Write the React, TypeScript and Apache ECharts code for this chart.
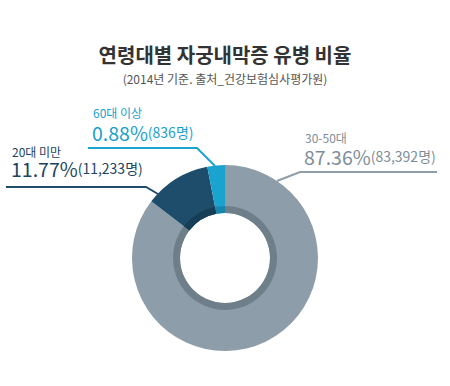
import React, { useEffect, useRef } from "react";
import * as echarts from "echarts";

const categories = ["30-50대", "20대 미만", "60대 이상"];
const patients = [83392, 11233, 836];
const shares = [87.36, 11.77, 0.88];

const sliceColors = ["#8d9eaa", "#1e4d6b", "#1ba3d0"];
const innerColors = ["#6f7f8a", "#173e57", "#1786ad"];
const labelColors = ["#7e8e99", "#1b4560", "#1a9fcb"];

const FONT = "'Noto Sans CJK KR', 'Noto Sans', sans-serif";

function labelText(i: number) {
  return `{a|${shares[i].toFixed(2)}%}{b|(${patients[i].toLocaleString("en-US")}명)}`;
}

function labelGroup(i: number, x: number, yName: number, yVal: number) {
  const c = labelColors[i];
  return [
    {
      type: "text",
      x,
      y: yName,
      style: {
        text: categories[i],
        fill: c,
        font: `normal 12px ${FONT}`,
        textVerticalAlign: "middle",
      },
    },
    {
      type: "text",
      x: x - 1,
      y: yVal,
      style: {
        text: labelText(i),
        fill: c,
        textVerticalAlign: "middle",
        rich: {
          a: { fontSize: 19.5, fontFamily: FONT, fill: c, fontWeight: "normal", lineHeight: 16 },
          b: { fontSize: 14, fontFamily: FONT, fill: c, lineHeight: 16 },
        },
      },
    },
  ];
}

export default function App() {
  const ref = useRef<HTMLDivElement>(null);
  useEffect(() => {
    if (!ref.current) return;
    const chart = echarts.init(ref.current, null, { renderer: "svg" });
    const data = categories.map((name, i) => ({
      name,
      value: patients[i],
      itemStyle: { color: sliceColors[i] },
    }));
    const innerData = categories.map((name, i) => ({
      name,
      value: patients[i],
      itemStyle: { color: innerColors[i] },
    }));
    chart.setOption({
      animation: false,
      backgroundColor: "#ffffff",
      title: {
        text: "연령대별 자궁내막증 유병 비율",
        subtext: "(2014년 기준. 출처_건강보험심사평가원)",
        left: "center",
        top: 39,
        itemGap: 8,
        textStyle: { fontFamily: FONT, fontSize: 20, fontWeight: "bold", color: "#333333" },
        subtextStyle: { fontFamily: FONT, fontSize: 12, color: "#555555" },
      },
      series: [
        {
          type: "pie",
          center: [225, 258],
          radius: [45, 93],
          startAngle: 90,
          clockwise: true,
          minAngle: 11,
          silent: true,
          label: { show: false },
          labelLine: { show: false },
          data,
        },
        {
          type: "pie",
          center: [225, 258],
          radius: [45, 52],
          startAngle: 90,
          clockwise: true,
          minAngle: 11,
          silent: true,
          label: { show: false },
          labelLine: { show: false },
          data: innerData,
        },
      ],
      graphic: [
        ...labelGroup(2, 93, 112, 132),
        ...labelGroup(1, 12, 151, 168),
        ...labelGroup(0, 305, 137, 156),
        {
          type: "polyline",
          shape: { points: [[88, 148], [197, 148], [215, 166]] },
          style: { stroke: sliceColors[2], lineWidth: 2, fill: null },
        },
        {
          type: "polyline",
          shape: { points: [[6, 187], [146, 187], [158, 194]] },
          style: { stroke: sliceColors[1], lineWidth: 2, fill: null },
        },
        {
          type: "polyline",
          shape: { points: [[437, 172], [300, 172], [277, 181]] },
          style: { stroke: sliceColors[0], lineWidth: 2, fill: null },
        },
      ],
    });
    return () => chart.dispose();
  }, []);
  return <div ref={ref} style={{ width: 450, height: 386, position: "absolute", left: 0, top: 0 }} />;
}
